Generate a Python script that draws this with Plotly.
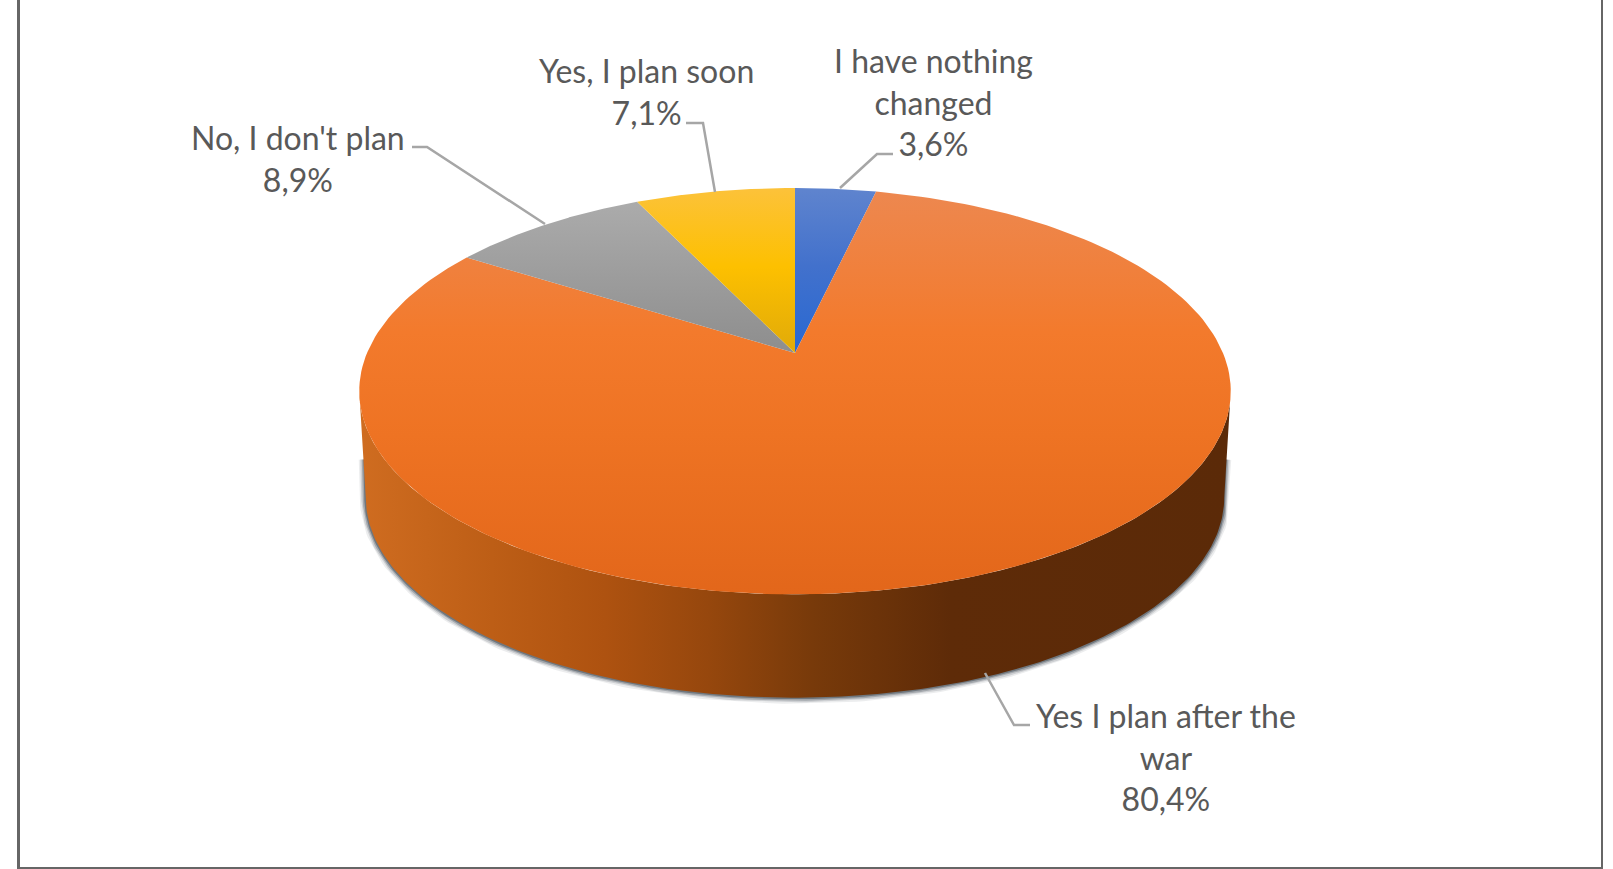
import numpy as np
import plotly.graph_objects as go

# data
categories = ["I have nothing<br>changed", "Yes I plan after the<br>war", "No, I don't plan", "Yes, I plan soon"]
values = [3.6, 80.4, 8.9, 7.1]
value_labels = ["3,6%", "80,4%", "8,9%", "7,1%"]

# gradients of the top face, one per slice
slice_colors = [
    [[0, "#5F84CE"], [0.5, "#4271CC"], [1, "#2A69D2"]],
    [[0, "#ED8850"], [0.2, "#F0803C"], [0.35, "#F37A2C"], [0.6, "#EE7323"], [1, "#E2661A"]],
    [[0, "#AEAEAE"], [1, "#8F8F8F"]],
    [[0, "#FCC23A"], [0.5, "#FDC000"], [1, "#E3AC08"]],
]
slice_stop = [345, 600, 345, 345]
wall_colors = [
    [0, "#CF6C20"], [0.15, "#BD5E16"], [0.28, "#AE5210"], [0.4, "#96470D"],
    [0.52, "#783A0A"], [0.68, "#5E2B08"], [1, "#5B2A08"],
]

# pie geometry, in page pixels
cx, cy = 795, 353
rx, ry = 428, 196
persp = 0.1878
depth = 107

label_pos = [(933, 102), (1166, 757), (298, 158), (646, 91)]
leaders = [
    ([893, 877, 840], [154, 154, 188]),
    ([1030, 1014, 985], [725, 725, 673]),
    ([412, 427, 545], [147, 147, 224]),
    ([686, 703, 715], [123, 123, 192]),
]


def project(theta, dy=0, shrink=1.0):
    # circle seen in perspective, angle clockwise from the far side
    s = 1 + persp * np.cos(theta)
    return cx + rx * shrink * np.sin(theta) / s, cy + dy - ry * shrink * np.cos(theta) / s


fig = go.Figure()

# side wall and its soft shadow
front = np.radians(np.linspace(100.8, 259.2, 200))
tx, ty = project(front)
bx, by = project(front, dy=depth, shrink=0.985)
# shadow runs a bit up the sides of the wall
sx = np.r_[bx[0] + 1, bx, bx[-1] - 1]
sy = np.r_[by[0] - 38, by, by[-1] - 38]
for w, alpha in [(12, 0.10), (9, 0.18), (6, 0.32), (3, 0.55)]:
    fig.add_trace(go.Scatter(x=sx, y=sy, mode="lines", line=dict(color=f"rgba(70,80,90,{alpha})", width=w),
                             hoverinfo="skip", showlegend=False))
fig.add_trace(go.Scatter(
    x=np.r_[tx, bx[::-1]], y=np.r_[ty, by[::-1]], mode="lines", fill="toself",
    line=dict(width=0), hoverinfo="skip", showlegend=False,
    fillgradient=dict(type="horizontal", colorscale=wall_colors, start=362, stop=1228),
))

# top face
edges = np.radians(np.cumsum([0] + values) * 3.6)
for i in range(len(values)):
    arc = np.linspace(edges[i], edges[i + 1], 200)
    ax, ay = project(arc)
    fig.add_trace(go.Scatter(
        x=np.r_[cx, ax, cx], y=np.r_[cy, ay, cy], mode="lines", fill="toself",
        line=dict(width=0), name=categories[i].replace("<br>", " "), showlegend=False,
        fillgradient=dict(type="vertical", colorscale=slice_colors[i], start=188, stop=slice_stop[i]),
    ))

# leader lines
for lx, ly in leaders:
    fig.add_trace(go.Scatter(x=lx, y=ly, mode="lines", line=dict(color="#A6A6A6", width=2.5),
                             hoverinfo="skip", showlegend=False))

# labels
for i in range(len(values)):
    fig.add_annotation(x=label_pos[i][0], y=label_pos[i][1], text=categories[i] + "<br>" + value_labels[i],
                       showarrow=False, align="center", font=dict(family="Lato", size=32, color="#595959"))

# frame, open at the top
for x0, y0, x1, y1, w in [(18.5, -5, 18.5, 869, 3), (1602, -5, 1602, 869, 2), (17, 868, 1603, 868, 2)]:
    fig.add_shape(type="line", x0=x0, y0=y0, x1=x1, y1=y1, line=dict(color="#666666", width=w))

fig.update_xaxes(visible=False, range=[0, 1613])
fig.update_yaxes(visible=False, range=[869, 0])
fig.update_layout(width=1613, height=869, margin=dict(l=0, r=0, t=0, b=0),
                  paper_bgcolor="white", plot_bgcolor="white", showlegend=False)

# page body has a default margin, drop it so the plot starts at the corner
fig.write_html("out.html", config=dict(displayModeBar=False),
               post_script="document.body.style.margin='0';document.body.style.overflow='hidden';")
